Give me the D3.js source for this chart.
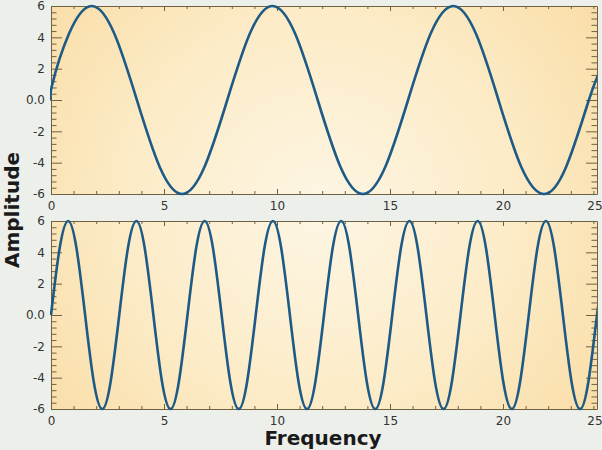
<!DOCTYPE html>
<html>
<head>
<meta charset="utf-8">
<script src="https://cdn.jsdelivr.net/npm/d3@7"></script>
<style>
  html, body { margin: 0; padding: 0; background: #edefeb; }
  svg { display: block; }
</style>
</head>
<body>
<svg id="chart" width="602" height="450"></svg>
<script>
// ---- data ----
const topX = [0, 0.04, 0.8, 1.8, 2.8, 3.8, 4.8, 5.8, 6.8, 7.8, 8.8, 9.8, 10.8, 11.8, 12.8, 13.8, 14.8, 15.8, 16.8, 17.8, 18.8, 19.8, 20.8, 21.8, 22.8, 23.8, 24.3];
const topY = [0, 0.9, 4.24, 6, 4.24, 0, -4.24, -6, -4.24, 0, 4.24, 6, 4.24, 0, -4.24, -6, -4.24, 0, 4.24, 6, 4.24, 0, -4.24, -6, -4.24, 0, 1.9];

const bottomX = [0, 0.38, 0.76, 1.13, 1.51, 1.89, 2.27, 2.64, 3.02, 3.40, 3.78, 4.15, 4.53, 4.91, 5.29, 5.66,
  6.04, 6.42, 6.80, 7.17, 7.55, 7.93, 8.31, 8.68, 9.06, 9.44, 9.82, 10.19, 10.57, 10.95, 11.33, 11.70,
  12.08, 12.46, 12.84, 13.21, 13.59, 13.97, 14.35, 14.72, 15.10, 15.48, 15.86, 16.23, 16.61, 16.99, 17.37, 17.74,
  18.12, 18.50, 18.88, 19.25, 19.63, 20.01, 20.39, 20.76, 21.14, 21.52, 21.90, 22.27, 22.65, 23.03, 23.41, 23.78, 24.16, 24.54];
const bottomY = [0, 4.24, 6, 4.24, 0, -4.24, -6, -4.24, 0, 4.24, 6, 4.24, 0, -4.24, -6, -4.24,
  0, 4.24, 6, 4.24, 0, -4.24, -6, -4.24, 0, 4.24, 6, 4.24, 0, -4.24, -6, -4.24,
  0, 4.24, 6, 4.24, 0, -4.24, -6, -4.24, 0, 4.24, 6, 4.24, 0, -4.24, -6, -4.24,
  0, 4.24, 6, 4.24, 0, -4.24, -6, -4.24, 0, 4.24, 6, 4.24, 0, -4.24, -6, -4.24, 0, 4.24];

const xTickValues = [0, 5, 10, 15, 20, 25];
const xTickLabels = ["0", "5", "10", "15", "20", "25"];
const yTickValues = [-6, -4, -2, 0, 2, 4, 6];
const yTickLabels = ["-6", "-4", "-2", "0.0", "2", "4", "6"];
const xMinorTicks = [1, 2, 3, 4, 6, 7, 8, 9, 11, 12, 13, 14, 16, 17, 18, 19, 21, 22, 23, 24];
const yMinorTicks = [-5.6, -5.2, -4.8, -4.4, -3.6, -3.2, -2.8, -2.4, -1.6, -1.2, -0.8, -0.4,
  0.4, 0.8, 1.2, 1.6, 2.4, 2.8, 3.2, 3.6, 4.4, 4.8, 5.2, 5.6];
const xTitle = "Frequency";
const yTitle = "Amplitude";

// ---- layout ----
const svg = d3.select("#chart");
const plotLeft = 51, plotRight = 597;
const axisColor = "#6f6244";
const lineColor = "#1d5a86";
const panels = [
  { top: 6, bottom: 194, xs: topX, ys: topY },
  { top: 221, bottom: 409, xs: bottomX, ys: bottomY }
];

const x = d3.scaleLinear().domain([0, 25]).range([plotLeft, 51 + 25 * 22.6]);

const defs = svg.append("defs");
const grad = defs.append("radialGradient")
  .attr("id", "bg").attr("gradientUnits", "userSpaceOnUse")
  .attr("cx", 320).attr("cy", 210).attr("r", 360);
grad.append("stop").attr("offset", "0").attr("stop-color", "#fdf6e4");
grad.append("stop").attr("offset", "0.55").attr("stop-color", "#fcebc6");
grad.append("stop").attr("offset", "1").attr("stop-color", "#f9dca4");

const styleAxis = sel => {
  sel.selectAll("path.domain").attr("stroke", axisColor);
  sel.selectAll(".tick line").attr("stroke", axisColor);
  sel.selectAll(".tick text").attr("fill", "#333")
    .style("font-family", "'DejaVu Sans', sans-serif").style("font-size", "12px");
};

panels.forEach((p, i) => {
  const y = d3.scaleLinear().domain([-6, 6]).range([p.bottom, p.top]);
  const g = svg.append("g");

  g.append("rect")
    .attr("x", plotLeft).attr("y", p.top)
    .attr("width", plotRight - plotLeft).attr("height", p.bottom - p.top)
    .attr("fill", "url(#bg)");

  defs.append("clipPath").attr("id", "clip" + i)
    .append("rect")
    .attr("x", plotLeft - 1).attr("y", p.top - 2)
    .attr("width", plotRight - plotLeft + 1).attr("height", p.bottom - p.top + 4);

  // minor ticks
  g.append("g").attr("transform", `translate(${plotLeft},0)`)
    .call(d3.axisLeft(y).tickValues(yMinorTicks).tickSize(-5.5).tickSizeOuter(0).tickFormat(""))
    .call(styleAxis);
  g.append("g").attr("transform", `translate(${plotRight},0)`)
    .call(d3.axisRight(y).tickValues(yMinorTicks).tickSize(-5.5).tickSizeOuter(0).tickFormat(""))
    .call(styleAxis);
  g.append("g").attr("transform", `translate(0,${p.bottom})`)
    .call(d3.axisBottom(x).tickValues(xMinorTicks).tickSize(-3).tickSizeOuter(0).tickFormat(""))
    .call(styleAxis);
  g.append("g").attr("transform", `translate(0,${p.top})`)
    .call(d3.axisTop(x).tickValues(xMinorTicks).tickSize(-3).tickSizeOuter(0).tickFormat(""))
    .call(styleAxis);

  // major ticks
  g.append("g").attr("transform", `translate(${plotLeft},0)`)
    .call(d3.axisLeft(y).tickValues(yTickValues).tickSize(-11).tickSizeOuter(0).tickPadding(6)
      .tickFormat((d, k) => yTickLabels[k]))
    .call(styleAxis);
  g.append("g").attr("transform", `translate(${plotRight},0)`)
    .call(d3.axisRight(y).tickValues(yTickValues).tickSize(-11).tickSizeOuter(0).tickFormat(""))
    .call(styleAxis);
  const xb = g.append("g").attr("transform", `translate(0,${p.bottom})`)
    .call(d3.axisBottom(x).tickValues(xTickValues).tickSize(-5).tickSizeOuter(0).tickPadding(7)
      .tickFormat((d, k) => xTickLabels[k]))
    .call(styleAxis);
  g.append("g").attr("transform", `translate(0,${p.top})`)
    .call(d3.axisTop(x).tickValues(xTickValues).tickSize(-5).tickSizeOuter(0).tickFormat(""))
    .call(styleAxis);
  // the last tick lies beyond the cropped edge: keep only its label at the edge
  xb.selectAll(".tick").filter(d => d === 25)
    .attr("transform", "translate(595,0)")
    .select("line").remove();

  // curve
  const pts = p.xs.map((v, k) => [v, p.ys[k]]);
  const line = d3.line()
    .x(d => x(d[0])).y(d => y(d[1]))
    .curve(d3.curveNatural);
  g.append("path")
    .attr("clip-path", `url(#clip${i})`)
    .attr("d", line(pts))
    .attr("fill", "none")
    .attr("stroke", lineColor)
    .attr("stroke-width", 2.6)
    .attr("stroke-linejoin", "round");
});

// trim x-axis domain lines to the visible plot width
svg.selectAll("path.domain").each(function() {
  const d = d3.select(this).attr("d");
  d3.select(this).attr("d", d.replace(/H([0-9.]+)/, (m, v) => "H" + Math.min(+v, plotRight)));
});

svg.append("text")
  .attr("transform", "translate(18.5,210) rotate(-90)")
  .attr("text-anchor", "middle")
  .style("font-family", "'DejaVu Sans', sans-serif")
  .style("font-weight", "bold").style("font-size", "20px")
  .attr("fill", "#1a1a1a")
  .text(yTitle);

svg.append("text")
  .attr("x", 323).attr("y", 445)
  .attr("text-anchor", "middle")
  .style("font-family", "'DejaVu Sans', sans-serif")
  .style("font-weight", "bold").style("font-size", "20px")
  .attr("fill", "#1a1a1a")
  .text(xTitle);
</script>
</body>
</html>
